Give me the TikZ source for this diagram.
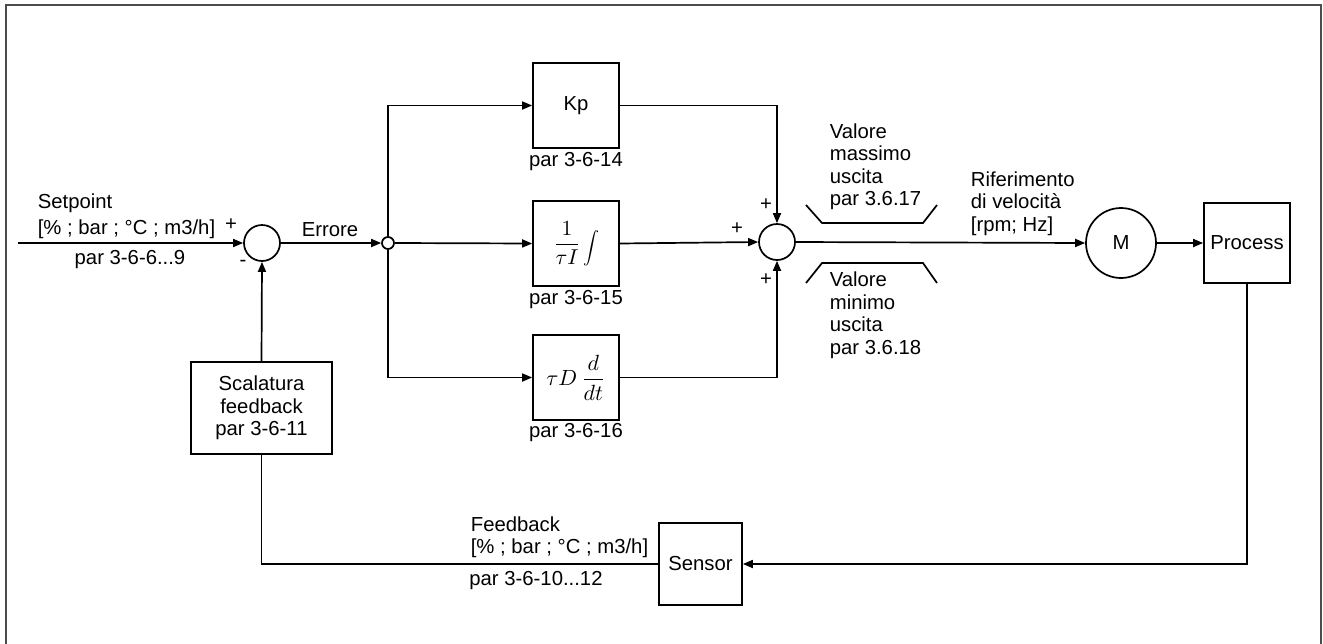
\documentclass[tikz,border=0pt]{standalone}
\usepackage{fontspec}
\usepackage{graphicx}
\setmainfont{Liberation Sans}
\usetikzlibrary{arrows.meta}
\begin{document}
\begin{tikzpicture}[x=1pt,y=-1pt, line width=1.7pt,
  every node/.style={font=\fontsize{20.3}{22.5}\selectfont, inner sep=0pt},
  blk/.style={draw, minimum width=86pt, minimum height=85pt},
  sumc/.style={draw, circle, minimum size=36pt},
  arr/.style={-{Triangle[length=10pt,width=8pt]}},
  lbl/.style={align=left, anchor=west}]
\useasboundingbox (0,0) rectangle (1323,643);
\draw[gray!60!black, line width=2pt] (6,650) -- (6,5) -- (1321,5) -- (1321,650);
% blocks
\node[sumc] (s1) at (262,243) {};
\node[draw, circle, minimum size=12pt, fill=white] (j) at (388,243) {};
\node[blk] (kp) at (576,105.5) {Kp};
\node[blk] (int) at (576,243.5) {\scalebox{2.15}{\normalsize$\displaystyle\frac{1}{\tau I}$}\hspace{2pt}\raisebox{-2pt}{\scalebox{1.6}{\normalsize$\displaystyle\int$}}};
\node[blk] (der) at (576,377.5) {\scalebox{2.2}{\normalsize$\displaystyle\tau D\,\frac{d}{dt}$}};
\node[sumc] (s2) at (777,242) {};
\node[draw, circle, minimum size=70pt] (m) at (1121,243) {M};
\node[draw, minimum width=86pt, minimum height=80pt] (proc) at (1247,243) {Process};
\node[draw, minimum width=83pt, minimum height=82pt] (sens) at (700.5,564) {Sensor};
\node[draw, minimum width=141pt, minimum height=92pt, align=center] (scal) at (261.5,408) {Scalatura\\feedback\\par 3-6-11};
\coordinate (sp) at (18,243);
% connectors
\draw[arr] (sp) -- (s1.west);
\draw[arr] (s1.east) -- (j.west);
\draw[arr] (j.north) |- (kp.west);
\draw[arr] (j.east) -- (int.west);
\draw[arr] (j.south) |- (der.west);
\draw[arr] (kp.east) -| (s2.north);
\draw[arr] (int.east) -- (s2.west);
\draw[arr] (der.east) -| (s2.south);
\draw[arr] (s2.east) -- (m.west);
\draw[arr] (m.east) -- (proc.west);
\draw[arr] (proc.south) |- (sens.east);
\draw (sens.west) -| (scal.south);
\draw[arr] (scal.north) -- (s1.south);
% saturation marks
\draw (806,205) -- (822,223) -- (923,223) -- (937,205);
\draw (806,283) -- (822,263) -- (923,263) -- (937,283);
% labels
\node[lbl] (t1) at (37,203) {Setpoint};
\node[lbl] (t2) at (37,229) {[\% ; bar ; °C ; m3/h]};
\node (t3) at (231,225) {+};
\node (t4) at (130,260) {par 3-6-6...9};
\node (t5) at (243,263) {-};
\node (t6) at (330,230) {Errore};
\node (p14) at (576,162) {par 3-6-14};
\node (p15) at (576,300) {par 3-6-15};
\node (p16) at (576,433) {par 3-6-16};
\node (pa) at (766,205) {+};
\node (pb) at (737,229) {+};
\node (pc) at (766,280) {+};
\node[lbl] (vmax) at (829,166.5) {Valore\\massimo\\uscita\\par 3.6.17};
\node[lbl] (vmin) at (829,315) {Valore\\minimo\\uscita\\par 3.6.18};
\node[lbl] (rif) at (970,203.5) {Riferimento\\di velocità\\[0pt][rpm; Hz]};
\node[lbl] (fb1) at (470,524) {Feedback};
\node[lbl] (fb2) at (470,548) {[\% ; bar ; °C ; m3/h]};
\node (fb3) at (536,581) {par 3-6-10...12};
\end{tikzpicture}
\end{document}
